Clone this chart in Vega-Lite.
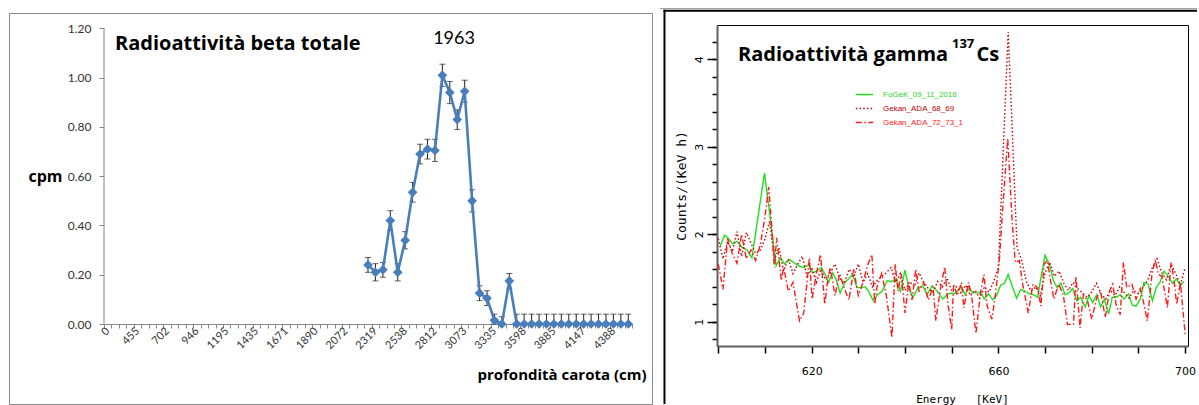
{
  "$schema": "https://vega.github.io/schema/vega-lite/v6.json",
  "padding": {"left": 9, "top": 7, "right": 0, "bottom": 0},
  "background": "white",
  "bounds": "flush",
  "spacing": 85,
  "config": {"view": {"stroke": null}, "axis": {"grid": false}},
  "datasets": {
    "beta": [
      {"idx":35,"cpm":0.24,"lo":0.21,"hi":0.27},
      {"idx":36,"cpm":0.21,"lo":0.175,"hi":0.245},
      {"idx":37,"cpm":0.22,"lo":0.19,"hi":0.25},
      {"idx":38,"cpm":0.42,"lo":0.38,"hi":0.46},
      {"idx":39,"cpm":0.21,"lo":0.175,"hi":0.245},
      {"idx":40,"cpm":0.34,"lo":0.305,"hi":0.375},
      {"idx":41,"cpm":0.535,"lo":0.495,"hi":0.575},
      {"idx":42,"cpm":0.69,"lo":0.65,"hi":0.73},
      {"idx":43,"cpm":0.71,"lo":0.67,"hi":0.75},
      {"idx":44,"cpm":0.705,"lo":0.66,"hi":0.75},
      {"idx":45,"cpm":1.01,"lo":0.965,"hi":1.055},
      {"idx":46,"cpm":0.94,"lo":0.895,"hi":0.985},
      {"idx":47,"cpm":0.83,"lo":0.79,"hi":0.87},
      {"idx":48,"cpm":0.945,"lo":0.9,"hi":0.99},
      {"idx":49,"cpm":0.5,"lo":0.455,"hi":0.545},
      {"idx":50,"cpm":0.125,"lo":0.095,"hi":0.155},
      {"idx":51,"cpm":0.105,"lo":0.075,"hi":0.135},
      {"idx":52,"cpm":0.015,"lo":0,"hi":0.04},
      {"idx":53,"cpm":0,"lo":0,"hi":0.03},
      {"idx":54,"cpm":0.175,"lo":0.145,"hi":0.205},
      {"idx":55,"cpm":0,"lo":0,"hi":0.04},
      {"idx":56,"cpm":0,"lo":0,"hi":0.04},
      {"idx":57,"cpm":0,"lo":0,"hi":0.04},
      {"idx":58,"cpm":0,"lo":0,"hi":0.04},
      {"idx":59,"cpm":0,"lo":0,"hi":0.04},
      {"idx":60,"cpm":0,"lo":0,"hi":0.04},
      {"idx":61,"cpm":0,"lo":0,"hi":0.04},
      {"idx":62,"cpm":0,"lo":0,"hi":0.04},
      {"idx":63,"cpm":0,"lo":0,"hi":0.04},
      {"idx":64,"cpm":0,"lo":0,"hi":0.04},
      {"idx":65,"cpm":0,"lo":0,"hi":0.04},
      {"idx":66,"cpm":0,"lo":0,"hi":0.04},
      {"idx":67,"cpm":0,"lo":0,"hi":0.04},
      {"idx":68,"cpm":0,"lo":0,"hi":0.04},
      {"idx":69,"cpm":0,"lo":0,"hi":0.04},
      {"idx":70,"cpm":0,"lo":0,"hi":0.04}
    ],
    "gamma": [
      {"series":"FoGeK_09_11_2016","energy":600.4,"counts":1.87},
      {"series":"FoGeK_09_11_2016","energy":601.4,"counts":1.99},
      {"series":"FoGeK_09_11_2016","energy":602.2,"counts":1.95},
      {"series":"FoGeK_09_11_2016","energy":603.1,"counts":1.89},
      {"series":"FoGeK_09_11_2016","energy":604.0,"counts":1.92},
      {"series":"FoGeK_09_11_2016","energy":605.1,"counts":1.85},
      {"series":"FoGeK_09_11_2016","energy":606.2,"counts":1.82},
      {"series":"FoGeK_09_11_2016","energy":607.2,"counts":1.73},
      {"series":"FoGeK_09_11_2016","energy":609.9,"counts":2.70},
      {"series":"FoGeK_09_11_2016","energy":612.4,"counts":1.64},
      {"series":"FoGeK_09_11_2016","energy":613.3,"counts":1.73},
      {"series":"FoGeK_09_11_2016","energy":614.2,"counts":1.66},
      {"series":"FoGeK_09_11_2016","energy":615.2,"counts":1.71},
      {"series":"FoGeK_09_11_2016","energy":616.1,"counts":1.68},
      {"series":"FoGeK_09_11_2016","energy":617.2,"counts":1.64},
      {"series":"FoGeK_09_11_2016","energy":618.3,"counts":1.62},
      {"series":"FoGeK_09_11_2016","energy":619.4,"counts":1.65},
      {"series":"FoGeK_09_11_2016","energy":620.2,"counts":1.56},
      {"series":"FoGeK_09_11_2016","energy":621.1,"counts":1.58},
      {"series":"FoGeK_09_11_2016","energy":622.1,"counts":1.62},
      {"series":"FoGeK_09_11_2016","energy":622.9,"counts":1.54},
      {"series":"FoGeK_09_11_2016","energy":623.6,"counts":1.45},
      {"series":"FoGeK_09_11_2016","energy":624.5,"counts":1.56},
      {"series":"FoGeK_09_11_2016","energy":625.2,"counts":1.49},
      {"series":"FoGeK_09_11_2016","energy":626.1,"counts":1.33},
      {"series":"FoGeK_09_11_2016","energy":627.1,"counts":1.45},
      {"series":"FoGeK_09_11_2016","energy":627.9,"counts":1.49},
      {"series":"FoGeK_09_11_2016","energy":628.8,"counts":1.54},
      {"series":"FoGeK_09_11_2016","energy":629.7,"counts":1.39},
      {"series":"FoGeK_09_11_2016","energy":630.4,"counts":1.39},
      {"series":"FoGeK_09_11_2016","energy":631.4,"counts":1.40},
      {"series":"FoGeK_09_11_2016","energy":632.2,"counts":1.35},
      {"series":"FoGeK_09_11_2016","energy":633.2,"counts":1.24},
      {"series":"FoGeK_09_11_2016","energy":634.1,"counts":1.31},
      {"series":"FoGeK_09_11_2016","energy":635.1,"counts":1.35},
      {"series":"FoGeK_09_11_2016","energy":636.2,"counts":1.47},
      {"series":"FoGeK_09_11_2016","energy":637.2,"counts":1.46},
      {"series":"FoGeK_09_11_2016","energy":638.1,"counts":1.49},
      {"series":"FoGeK_09_11_2016","energy":639.0,"counts":1.35},
      {"series":"FoGeK_09_11_2016","energy":640.0,"counts":1.59},
      {"series":"FoGeK_09_11_2016","energy":640.8,"counts":1.39},
      {"series":"FoGeK_09_11_2016","energy":641.7,"counts":1.28},
      {"series":"FoGeK_09_11_2016","energy":642.8,"counts":1.39},
      {"series":"FoGeK_09_11_2016","energy":643.8,"counts":1.41},
      {"series":"FoGeK_09_11_2016","energy":644.7,"counts":1.31},
      {"series":"FoGeK_09_11_2016","energy":645.8,"counts":1.41},
      {"series":"FoGeK_09_11_2016","energy":646.9,"counts":1.35},
      {"series":"FoGeK_09_11_2016","energy":648.1,"counts":1.26},
      {"series":"FoGeK_09_11_2016","energy":649.0,"counts":1.31},
      {"series":"FoGeK_09_11_2016","energy":649.9,"counts":1.33},
      {"series":"FoGeK_09_11_2016","energy":650.5,"counts":1.32},
      {"series":"FoGeK_09_11_2016","energy":651.2,"counts":1.35},
      {"series":"FoGeK_09_11_2016","energy":652.0,"counts":1.40},
      {"series":"FoGeK_09_11_2016","energy":652.9,"counts":1.31},
      {"series":"FoGeK_09_11_2016","energy":653.6,"counts":1.40},
      {"series":"FoGeK_09_11_2016","energy":654.5,"counts":1.33},
      {"series":"FoGeK_09_11_2016","energy":655.4,"counts":1.33},
      {"series":"FoGeK_09_11_2016","energy":656.2,"counts":1.34},
      {"series":"FoGeK_09_11_2016","energy":657.0,"counts":1.26},
      {"series":"FoGeK_09_11_2016","energy":657.9,"counts":1.32},
      {"series":"FoGeK_09_11_2016","energy":658.8,"counts":1.25},
      {"series":"FoGeK_09_11_2016","energy":659.6,"counts":1.30},
      {"series":"FoGeK_09_11_2016","energy":660.5,"counts":1.42},
      {"series":"FoGeK_09_11_2016","energy":661.3,"counts":1.44},
      {"series":"FoGeK_09_11_2016","energy":662.1,"counts":1.54},
      {"series":"FoGeK_09_11_2016","energy":663.0,"counts":1.40},
      {"series":"FoGeK_09_11_2016","energy":663.9,"counts":1.27},
      {"series":"FoGeK_09_11_2016","energy":664.8,"counts":1.37},
      {"series":"FoGeK_09_11_2016","energy":665.7,"counts":1.35},
      {"series":"FoGeK_09_11_2016","energy":666.6,"counts":1.32},
      {"series":"FoGeK_09_11_2016","energy":667.5,"counts":1.31},
      {"series":"FoGeK_09_11_2016","energy":668.4,"counts":1.28},
      {"series":"FoGeK_09_11_2016","energy":669.1,"counts":1.50},
      {"series":"FoGeK_09_11_2016","energy":670.0,"counts":1.76},
      {"series":"FoGeK_09_11_2016","energy":670.9,"counts":1.66},
      {"series":"FoGeK_09_11_2016","energy":671.8,"counts":1.47},
      {"series":"FoGeK_09_11_2016","energy":672.6,"counts":1.39},
      {"series":"FoGeK_09_11_2016","energy":673.4,"counts":1.44},
      {"series":"FoGeK_09_11_2016","energy":674.3,"counts":1.31},
      {"series":"FoGeK_09_11_2016","energy":675.1,"counts":1.33},
      {"series":"FoGeK_09_11_2016","energy":675.9,"counts":1.38},
      {"series":"FoGeK_09_11_2016","energy":676.8,"counts":1.24},
      {"series":"FoGeK_09_11_2016","energy":677.6,"counts":1.28},
      {"series":"FoGeK_09_11_2016","energy":678.6,"counts":1.17},
      {"series":"FoGeK_09_11_2016","energy":679.4,"counts":1.30},
      {"series":"FoGeK_09_11_2016","energy":680.2,"counts":1.22},
      {"series":"FoGeK_09_11_2016","energy":681.1,"counts":1.31},
      {"series":"FoGeK_09_11_2016","energy":681.9,"counts":1.17},
      {"series":"FoGeK_09_11_2016","energy":682.7,"counts":1.26},
      {"series":"FoGeK_09_11_2016","energy":683.6,"counts":1.09},
      {"series":"FoGeK_09_11_2016","energy":684.4,"counts":1.28},
      {"series":"FoGeK_09_11_2016","energy":685.2,"counts":1.28},
      {"series":"FoGeK_09_11_2016","energy":686.1,"counts":1.31},
      {"series":"FoGeK_09_11_2016","energy":686.9,"counts":1.26},
      {"series":"FoGeK_09_11_2016","energy":687.9,"counts":1.32},
      {"series":"FoGeK_09_11_2016","energy":688.7,"counts":1.19},
      {"series":"FoGeK_09_11_2016","energy":689.5,"counts":1.18},
      {"series":"FoGeK_09_11_2016","energy":690.4,"counts":1.26},
      {"series":"FoGeK_09_11_2016","energy":691.2,"counts":1.45},
      {"series":"FoGeK_09_11_2016","energy":692.1,"counts":1.43},
      {"series":"FoGeK_09_11_2016","energy":693.0,"counts":1.24},
      {"series":"FoGeK_09_11_2016","energy":693.8,"counts":1.39},
      {"series":"FoGeK_09_11_2016","energy":694.6,"counts":1.45},
      {"series":"FoGeK_09_11_2016","energy":695.5,"counts":1.58},
      {"series":"FoGeK_09_11_2016","energy":696.4,"counts":1.52},
      {"series":"FoGeK_09_11_2016","energy":697.3,"counts":1.44},
      {"series":"FoGeK_09_11_2016","energy":698.1,"counts":1.49},
      {"series":"FoGeK_09_11_2016","energy":699.0,"counts":1.42},
      {"series":"FoGeK_09_11_2016","energy":699.8,"counts":1.46},
      {"series":"Gekan_ADA_68_69","energy":600,"counts":1.95},
      {"series":"Gekan_ADA_68_69","energy":601,"counts":1.72},
      {"series":"Gekan_ADA_68_69","energy":602,"counts":1.92},
      {"series":"Gekan_ADA_68_69","energy":603,"counts":1.80},
      {"series":"Gekan_ADA_68_69","energy":604,"counts":2.03},
      {"series":"Gekan_ADA_68_69","energy":605,"counts":1.75},
      {"series":"Gekan_ADA_68_69","energy":606,"counts":2.02},
      {"series":"Gekan_ADA_68_69","energy":607,"counts":1.90},
      {"series":"Gekan_ADA_68_69","energy":608,"counts":1.78},
      {"series":"Gekan_ADA_68_69","energy":609,"counts":1.82},
      {"series":"Gekan_ADA_68_69","energy":610,"counts":1.95},
      {"series":"Gekan_ADA_68_69","energy":611,"counts":2.15},
      {"series":"Gekan_ADA_68_69","energy":612,"counts":1.70},
      {"series":"Gekan_ADA_68_69","energy":613,"counts":1.85},
      {"series":"Gekan_ADA_68_69","energy":614,"counts":1.58},
      {"series":"Gekan_ADA_68_69","energy":615,"counts":1.72},
      {"series":"Gekan_ADA_68_69","energy":616,"counts":1.55},
      {"series":"Gekan_ADA_68_69","energy":617,"counts":1.66},
      {"series":"Gekan_ADA_68_69","energy":618,"counts":1.75},
      {"series":"Gekan_ADA_68_69","energy":619,"counts":1.52},
      {"series":"Gekan_ADA_68_69","energy":620,"counts":1.62},
      {"series":"Gekan_ADA_68_69","energy":621,"counts":1.45},
      {"series":"Gekan_ADA_68_69","energy":622,"counts":1.60},
      {"series":"Gekan_ADA_68_69","energy":623,"counts":1.48},
      {"series":"Gekan_ADA_68_69","energy":624,"counts":1.56},
      {"series":"Gekan_ADA_68_69","energy":625,"counts":1.66},
      {"series":"Gekan_ADA_68_69","energy":626,"counts":1.50},
      {"series":"Gekan_ADA_68_69","energy":627,"counts":1.44},
      {"series":"Gekan_ADA_68_69","energy":628,"counts":1.60},
      {"series":"Gekan_ADA_68_69","energy":629,"counts":1.52},
      {"series":"Gekan_ADA_68_69","energy":630,"counts":1.66},
      {"series":"Gekan_ADA_68_69","energy":631,"counts":1.45},
      {"series":"Gekan_ADA_68_69","energy":632,"counts":1.55},
      {"series":"Gekan_ADA_68_69","energy":633,"counts":1.40},
      {"series":"Gekan_ADA_68_69","energy":634,"counts":1.47},
      {"series":"Gekan_ADA_68_69","energy":635,"counts":1.52},
      {"series":"Gekan_ADA_68_69","energy":636,"counts":1.56},
      {"series":"Gekan_ADA_68_69","energy":637,"counts":1.62},
      {"series":"Gekan_ADA_68_69","energy":638,"counts":1.45},
      {"series":"Gekan_ADA_68_69","energy":639,"counts":1.55},
      {"series":"Gekan_ADA_68_69","energy":640,"counts":1.36},
      {"series":"Gekan_ADA_68_69","energy":641,"counts":1.46},
      {"series":"Gekan_ADA_68_69","energy":642,"counts":1.40},
      {"series":"Gekan_ADA_68_69","energy":643,"counts":1.56},
      {"series":"Gekan_ADA_68_69","energy":644,"counts":1.45},
      {"series":"Gekan_ADA_68_69","energy":645,"counts":1.38},
      {"series":"Gekan_ADA_68_69","energy":646,"counts":1.34},
      {"series":"Gekan_ADA_68_69","energy":647,"counts":1.46},
      {"series":"Gekan_ADA_68_69","energy":648,"counts":1.40},
      {"series":"Gekan_ADA_68_69","energy":649,"counts":1.50},
      {"series":"Gekan_ADA_68_69","energy":650,"counts":1.35},
      {"series":"Gekan_ADA_68_69","energy":651,"counts":1.40},
      {"series":"Gekan_ADA_68_69","energy":652,"counts":1.33},
      {"series":"Gekan_ADA_68_69","energy":653,"counts":1.42},
      {"series":"Gekan_ADA_68_69","energy":654,"counts":1.30},
      {"series":"Gekan_ADA_68_69","energy":655,"counts":1.36},
      {"series":"Gekan_ADA_68_69","energy":656,"counts":1.27},
      {"series":"Gekan_ADA_68_69","energy":657,"counts":1.40},
      {"series":"Gekan_ADA_68_69","energy":658,"counts":1.34},
      {"series":"Gekan_ADA_68_69","energy":659,"counts":1.46},
      {"series":"Gekan_ADA_68_69","energy":660,"counts":1.62},
      {"series":"Gekan_ADA_68_69","energy":662.1,"counts":4.31},
      {"series":"Gekan_ADA_68_69","energy":664,"counts":1.85},
      {"series":"Gekan_ADA_68_69","energy":665,"counts":1.70},
      {"series":"Gekan_ADA_68_69","energy":666,"counts":1.46},
      {"series":"Gekan_ADA_68_69","energy":667,"counts":1.35},
      {"series":"Gekan_ADA_68_69","energy":668,"counts":1.40},
      {"series":"Gekan_ADA_68_69","energy":669,"counts":1.30},
      {"series":"Gekan_ADA_68_69","energy":670,"counts":1.56},
      {"series":"Gekan_ADA_68_69","energy":671,"counts":1.68},
      {"series":"Gekan_ADA_68_69","energy":672,"counts":1.52},
      {"series":"Gekan_ADA_68_69","energy":673,"counts":1.58},
      {"series":"Gekan_ADA_68_69","energy":674,"counts":1.44},
      {"series":"Gekan_ADA_68_69","energy":675,"counts":1.36},
      {"series":"Gekan_ADA_68_69","energy":676,"counts":1.45},
      {"series":"Gekan_ADA_68_69","energy":677,"counts":1.38},
      {"series":"Gekan_ADA_68_69","energy":678,"counts":1.33},
      {"series":"Gekan_ADA_68_69","energy":679,"counts":1.28},
      {"series":"Gekan_ADA_68_69","energy":680,"counts":1.34},
      {"series":"Gekan_ADA_68_69","energy":681,"counts":1.44},
      {"series":"Gekan_ADA_68_69","energy":682,"counts":1.32},
      {"series":"Gekan_ADA_68_69","energy":683,"counts":1.26},
      {"series":"Gekan_ADA_68_69","energy":684,"counts":1.36},
      {"series":"Gekan_ADA_68_69","energy":685,"counts":1.30},
      {"series":"Gekan_ADA_68_69","energy":686,"counts":1.40},
      {"series":"Gekan_ADA_68_69","energy":687,"counts":1.33},
      {"series":"Gekan_ADA_68_69","energy":688,"counts":1.27},
      {"series":"Gekan_ADA_68_69","energy":689,"counts":1.36},
      {"series":"Gekan_ADA_68_69","energy":690,"counts":1.32},
      {"series":"Gekan_ADA_68_69","energy":691,"counts":1.40},
      {"series":"Gekan_ADA_68_69","energy":692,"counts":1.48},
      {"series":"Gekan_ADA_68_69","energy":693,"counts":1.62},
      {"series":"Gekan_ADA_68_69","energy":694,"counts":1.72},
      {"series":"Gekan_ADA_68_69","energy":695,"counts":1.56},
      {"series":"Gekan_ADA_68_69","energy":696,"counts":1.48},
      {"series":"Gekan_ADA_68_69","energy":697,"counts":1.66},
      {"series":"Gekan_ADA_68_69","energy":698,"counts":1.55},
      {"series":"Gekan_ADA_68_69","energy":699,"counts":1.42},
      {"series":"Gekan_ADA_68_69","energy":700,"counts":1.62},
      {"series":"Gekan_ADA_72_73_1","energy":600,"counts":1.66},
      {"series":"Gekan_ADA_72_73_1","energy":601,"counts":1.37},
      {"series":"Gekan_ADA_72_73_1","energy":602,"counts":1.95},
      {"series":"Gekan_ADA_72_73_1","energy":603,"counts":1.78},
      {"series":"Gekan_ADA_72_73_1","energy":604,"counts":1.67},
      {"series":"Gekan_ADA_72_73_1","energy":605,"counts":2.00},
      {"series":"Gekan_ADA_72_73_1","energy":606,"counts":1.72},
      {"series":"Gekan_ADA_72_73_1","energy":607,"counts":1.82},
      {"series":"Gekan_ADA_72_73_1","energy":608,"counts":1.70},
      {"series":"Gekan_ADA_72_73_1","energy":609,"counts":1.88},
      {"series":"Gekan_ADA_72_73_1","energy":610,"counts":2.20},
      {"series":"Gekan_ADA_72_73_1","energy":610.8,"counts":2.54},
      {"series":"Gekan_ADA_72_73_1","energy":611.5,"counts":2.05},
      {"series":"Gekan_ADA_72_73_1","energy":612,"counts":1.62},
      {"series":"Gekan_ADA_72_73_1","energy":612.5,"counts":1.96},
      {"series":"Gekan_ADA_72_73_1","energy":613.5,"counts":1.47},
      {"series":"Gekan_ADA_72_73_1","energy":614,"counts":1.62},
      {"series":"Gekan_ADA_72_73_1","energy":615,"counts":1.35},
      {"series":"Gekan_ADA_72_73_1","energy":616,"counts":1.45},
      {"series":"Gekan_ADA_72_73_1","energy":617.4,"counts":1.01},
      {"series":"Gekan_ADA_72_73_1","energy":618.3,"counts":1.10},
      {"series":"Gekan_ADA_72_73_1","energy":619,"counts":1.45},
      {"series":"Gekan_ADA_72_73_1","energy":619.5,"counts":1.73},
      {"series":"Gekan_ADA_72_73_1","energy":620.1,"counts":1.26},
      {"series":"Gekan_ADA_72_73_1","energy":621,"counts":1.55},
      {"series":"Gekan_ADA_72_73_1","energy":621.9,"counts":1.77},
      {"series":"Gekan_ADA_72_73_1","energy":622.8,"counts":1.20},
      {"series":"Gekan_ADA_72_73_1","energy":623.5,"counts":1.50},
      {"series":"Gekan_ADA_72_73_1","energy":624,"counts":1.62},
      {"series":"Gekan_ADA_72_73_1","energy":625,"counts":1.30},
      {"series":"Gekan_ADA_72_73_1","energy":626,"counts":1.55},
      {"series":"Gekan_ADA_72_73_1","energy":627,"counts":1.38},
      {"series":"Gekan_ADA_72_73_1","energy":628,"counts":1.25},
      {"series":"Gekan_ADA_72_73_1","energy":629,"counts":1.60},
      {"series":"Gekan_ADA_72_73_1","energy":630,"counts":1.30},
      {"series":"Gekan_ADA_72_73_1","energy":631,"counts":1.45},
      {"series":"Gekan_ADA_72_73_1","energy":632,"counts":1.65},
      {"series":"Gekan_ADA_72_73_1","energy":632.9,"counts":1.77},
      {"series":"Gekan_ADA_72_73_1","energy":633.5,"counts":1.20},
      {"series":"Gekan_ADA_72_73_1","energy":634,"counts":1.40},
      {"series":"Gekan_ADA_72_73_1","energy":635,"counts":1.55},
      {"series":"Gekan_ADA_72_73_1","energy":636,"counts":1.30},
      {"series":"Gekan_ADA_72_73_1","energy":637.2,"counts":0.82},
      {"series":"Gekan_ADA_72_73_1","energy":637.9,"counts":1.66},
      {"series":"Gekan_ADA_72_73_1","energy":638.5,"counts":1.35},
      {"series":"Gekan_ADA_72_73_1","energy":639.2,"counts":1.55},
      {"series":"Gekan_ADA_72_73_1","energy":640,"counts":1.10},
      {"series":"Gekan_ADA_72_73_1","energy":640.8,"counts":1.45},
      {"series":"Gekan_ADA_72_73_1","energy":641.5,"counts":1.25},
      {"series":"Gekan_ADA_72_73_1","energy":642.3,"counts":1.60},
      {"series":"Gekan_ADA_72_73_1","energy":643,"counts":1.35},
      {"series":"Gekan_ADA_72_73_1","energy":644,"counts":1.45},
      {"series":"Gekan_ADA_72_73_1","energy":645,"counts":1.25},
      {"series":"Gekan_ADA_72_73_1","energy":646,"counts":1.40},
      {"series":"Gekan_ADA_72_73_1","energy":646.6,"counts":1.01},
      {"series":"Gekan_ADA_72_73_1","energy":647.5,"counts":1.35},
      {"series":"Gekan_ADA_72_73_1","energy":648.5,"counts":1.63},
      {"series":"Gekan_ADA_72_73_1","energy":649.2,"counts":1.20},
      {"series":"Gekan_ADA_72_73_1","energy":650,"counts":0.91},
      {"series":"Gekan_ADA_72_73_1","energy":650.4,"counts":1.43},
      {"series":"Gekan_ADA_72_73_1","energy":651.2,"counts":1.30},
      {"series":"Gekan_ADA_72_73_1","energy":652.1,"counts":1.45},
      {"series":"Gekan_ADA_72_73_1","energy":652.6,"counts":1.16},
      {"series":"Gekan_ADA_72_73_1","energy":653.6,"counts":1.45},
      {"series":"Gekan_ADA_72_73_1","energy":654.3,"counts":1.28},
      {"series":"Gekan_ADA_72_73_1","energy":655.2,"counts":0.865},
      {"series":"Gekan_ADA_72_73_1","energy":656.1,"counts":1.31},
      {"series":"Gekan_ADA_72_73_1","energy":656.9,"counts":1.54},
      {"series":"Gekan_ADA_72_73_1","energy":657.6,"counts":1.18},
      {"series":"Gekan_ADA_72_73_1","energy":658.6,"counts":1.03},
      {"series":"Gekan_ADA_72_73_1","energy":659.3,"counts":1.28},
      {"series":"Gekan_ADA_72_73_1","energy":660.2,"counts":1.70},
      {"series":"Gekan_ADA_72_73_1","energy":660.9,"counts":2.27},
      {"series":"Gekan_ADA_72_73_1","energy":662.0,"counts":3.10},
      {"series":"Gekan_ADA_72_73_1","energy":662.9,"counts":2.19},
      {"series":"Gekan_ADA_72_73_1","energy":663.6,"counts":1.68},
      {"series":"Gekan_ADA_72_73_1","energy":664.5,"counts":1.70},
      {"series":"Gekan_ADA_72_73_1","energy":665.2,"counts":1.43},
      {"series":"Gekan_ADA_72_73_1","energy":666.4,"counts":1.10},
      {"series":"Gekan_ADA_72_73_1","energy":667.4,"counts":1.43},
      {"series":"Gekan_ADA_72_73_1","energy":668.4,"counts":1.39},
      {"series":"Gekan_ADA_72_73_1","energy":669.1,"counts":1.18},
      {"series":"Gekan_ADA_72_73_1","energy":669.8,"counts":1.66},
      {"series":"Gekan_ADA_72_73_1","energy":670.5,"counts":1.70},
      {"series":"Gekan_ADA_72_73_1","energy":671.3,"counts":1.43},
      {"series":"Gekan_ADA_72_73_1","energy":671.9,"counts":1.26},
      {"series":"Gekan_ADA_72_73_1","energy":672.9,"counts":1.43},
      {"series":"Gekan_ADA_72_73_1","energy":673.9,"counts":1.31},
      {"series":"Gekan_ADA_72_73_1","energy":674.8,"counts":0.97},
      {"series":"Gekan_ADA_72_73_1","energy":676.1,"counts":0.97},
      {"series":"Gekan_ADA_72_73_1","energy":676.6,"counts":1.52},
      {"series":"Gekan_ADA_72_73_1","energy":677.5,"counts":0.93},
      {"series":"Gekan_ADA_72_73_1","energy":678.2,"counts":1.31},
      {"series":"Gekan_ADA_72_73_1","energy":679.1,"counts":1.24},
      {"series":"Gekan_ADA_72_73_1","energy":680.0,"counts":1.03},
      {"series":"Gekan_ADA_72_73_1","energy":681.1,"counts":1.28},
      {"series":"Gekan_ADA_72_73_1","energy":681.9,"counts":1.35},
      {"series":"Gekan_ADA_72_73_1","energy":682.9,"counts":1.05},
      {"series":"Gekan_ADA_72_73_1","energy":683.8,"counts":1.35},
      {"series":"Gekan_ADA_72_73_1","energy":684.5,"counts":1.43},
      {"series":"Gekan_ADA_72_73_1","energy":685.2,"counts":1.20},
      {"series":"Gekan_ADA_72_73_1","energy":686.1,"counts":1.08},
      {"series":"Gekan_ADA_72_73_1","energy":686.8,"counts":1.68},
      {"series":"Gekan_ADA_72_73_1","energy":687.5,"counts":1.39},
      {"series":"Gekan_ADA_72_73_1","energy":688.6,"counts":1.43},
      {"series":"Gekan_ADA_72_73_1","energy":689.5,"counts":1.26},
      {"series":"Gekan_ADA_72_73_1","energy":690.4,"counts":1.38},
      {"series":"Gekan_ADA_72_73_1","energy":691.2,"counts":1.20},
      {"series":"Gekan_ADA_72_73_1","energy":691.9,"counts":1.01},
      {"series":"Gekan_ADA_72_73_1","energy":692.9,"counts":1.54},
      {"series":"Gekan_ADA_72_73_1","energy":693.6,"counts":1.71},
      {"series":"Gekan_ADA_72_73_1","energy":694.3,"counts":1.54},
      {"series":"Gekan_ADA_72_73_1","energy":695.0,"counts":1.52},
      {"series":"Gekan_ADA_72_73_1","energy":695.6,"counts":1.35},
      {"series":"Gekan_ADA_72_73_1","energy":696.2,"counts":1.16},
      {"series":"Gekan_ADA_72_73_1","energy":697.0,"counts":1.68},
      {"series":"Gekan_ADA_72_73_1","energy":697.6,"counts":1.49},
      {"series":"Gekan_ADA_72_73_1","energy":698.2,"counts":1.20},
      {"series":"Gekan_ADA_72_73_1","energy":699.0,"counts":1.45},
      {"series":"Gekan_ADA_72_73_1","energy":700.0,"counts":0.86}
    ]
  },
  "hconcat": [
    {
      "width": 528,
      "height": 299,
      "resolve": {"axis": {"x": "independent"}},
      "layer": [
        {
          "data": {"values": [{}]},
          "mark": {"type": "rect", "filled": false, "stroke": "#8c8c8c", "strokeWidth": 1},
          "encoding": {
            "x": {"datum": -13.207, "type": "quantitative", "axis": null},
            "x2": {"datum": 73.257},
            "y": {"datum": 1.2609, "type": "quantitative"},
            "y2": {"datum": -0.3269}
          }
        },
        {
          "data": {"values": [{}]},
          "mark": {"type": "rule", "color": "#868686", "strokeWidth": 1},
          "encoding": {
            "x": {
              "datum": -0.5, "type": "quantitative",
              "axis": {
                "orient": "bottom",
                "values": [-0.5,0.5,1.5,2.5,3.5,4.5,5.5,6.5,7.5,8.5,9.5,10.5,11.5,12.5,13.5,14.5,15.5,16.5,17.5,18.5,19.5,20.5,21.5,22.5,23.5,24.5,25.5,26.5,27.5,28.5,29.5,30.5,31.5,32.5,33.5,34.5,35.5,36.5,37.5,38.5,39.5,40.5,41.5,42.5,43.5,44.5,45.5,46.5,47.5,48.5,49.5,50.5,51.5,52.5,53.5,54.5,55.5,56.5,57.5,58.5,59.5,60.5,61.5,62.5,63.5,64.5,65.5,66.5,67.5,68.5,69.5,70.5],
                "labels": false,
                "tickSize": 4,
                "tickColor": "#868686",
                "domainColor": "#868686",
                "title": null
              }
            },
            "y": {"datum": 0, "type": "quantitative"},
            "y2": {"datum": 1.2}
          }
        },
        {
          "data": {"name": "beta"},
          "mark": {"type": "rule", "color": "#222222", "strokeWidth": 1},
          "encoding": {
            "x": {"field": "idx", "type": "quantitative", "axis": null},
            "y": {"field": "lo", "type": "quantitative"},
            "y2": {"field": "hi"}
          }
        },
        {
          "data": {"name": "beta"},
          "mark": {"type": "tick", "orient": "horizontal", "size": 6, "thickness": 1, "color": "#222222"},
          "encoding": {
            "x": {"field": "idx", "type": "quantitative", "axis": null},
            "y": {"field": "hi", "type": "quantitative"}
          }
        },
        {
          "data": {"name": "beta"},
          "mark": {"type": "tick", "orient": "horizontal", "size": 6, "thickness": 1, "color": "#222222"},
          "encoding": {
            "x": {"field": "idx", "type": "quantitative", "axis": null},
            "y": {"field": "lo", "type": "quantitative"}
          }
        },
        {
          "data": {"name": "beta"},
          "mark": {"type": "line", "color": "#4a7ebb", "strokeWidth": 2.6},
          "encoding": {
            "x": {
              "field": "idx", "type": "quantitative",
              "scale": {"domain": [-0.5, 70.5], "nice": false, "zero": false},
              "axis": {
                "orient": "bottom",
                "values": [0,4,8,12,16,20,24,28,32,36,40,44,48,52,56,60,64,68],
                "labelExpr": "['0','455','702','946','1195','1435','1671','1890','2072','2319','2538','2812','3073','3335','3598','3885','4147','4388'][datum.value / 4]",
                "labelAngle": -45,
                "labelAlign": "right",
                "labelBaseline": "middle",
                "labelPadding": 5,
                "labelFont": "Lato",
                "labelFontSize": 11,
                "labelColor": "#333333",
                "labelOverlap": false,
                "labelSeparation": -100,
                "labelFlush": false,
                "labelBound": false,
                "ticks": false,
                "domain": false,
                "title": "profondità carota (cm)",
                "titleFont": "Open Sans",
                "titleFontSize": 15,
                "titleFontWeight": "bold",
                "titleColor": "#000000",
                "titleX": 542,
                "titleY": 55,
                "titleAlign": "right",
                "titleBaseline": "alphabetic"
              }
            },
            "y": {
              "field": "cpm", "type": "quantitative",
              "scale": {"domain": [0, 1.2142], "nice": false, "zero": false},
              "axis": {
                "values": [0, 0.2, 0.4, 0.6, 0.8, 1, 1.2],
                "format": ".2f",
                "labelFont": "Lato",
                "labelFontSize": 12,
                "labelColor": "#333333",
                "labelPadding": 8,
                "tickSize": 5,
                "tickColor": "#868686",
                "domain": false,
                "title": "cpm",
                "titleAngle": 0,
                "titleFont": "Open Sans",
                "titleFontSize": 16,
                "titleFontWeight": "bold",
                "titleColor": "#000000",
                "titleX": -76,
                "titleY": 156,
                "titleAlign": "left",
                "titleBaseline": "alphabetic"
              }
            }
          }
        },
        {
          "data": {"name": "beta"},
          "mark": {"type": "point", "shape": "diamond", "filled": true, "size": 95, "color": "#4a7ebb", "opacity": 1},
          "encoding": {
            "x": {"field": "idx", "type": "quantitative", "axis": null},
            "y": {"field": "cpm", "type": "quantitative"}
          }
        },
        {
          "data": {"values": [{}]},
          "mark": {"type": "text", "text": "Radioattività beta totale", "font": "Open Sans", "fontSize": 20, "fontWeight": "bold", "align": "left", "baseline": "alphabetic", "color": "#000000"},
          "encoding": {
            "x": {"datum": 0.979, "type": "quantitative", "axis": null},
            "y": {"datum": 1.1127, "type": "quantitative"}
          }
        },
        {
          "data": {"values": [{}]},
          "mark": {"type": "text", "text": "1963", "font": "Lato", "fontSize": 18, "align": "center", "baseline": "alphabetic", "color": "#000000"},
          "encoding": {
            "x": {"datum": 46.565, "type": "quantitative", "axis": null},
            "y": {"datum": 1.1358, "type": "quantitative"}
          }
        }
      ]
    },
    {
      "width": 471,
      "height": 321,
      "view": {"stroke": "#000000", "strokeWidth": 1},
      "resolve": {"axis": {"y": "independent"}},
      "layer": [
        {
          "data": {"values": [{}]},
          "mark": {"type": "rule", "color": "#a0a0a0", "strokeWidth": 1},
          "encoding": {
            "x": {"datum": 587.51, "type": "quantitative"},
            "x2": {"datum": 702.55},
            "y": {"datum": 4.5806, "type": "quantitative", "axis": null}
          }
        },
        {
          "data": {"values": [{}]},
          "mark": {"type": "rule", "color": "#000000", "strokeWidth": 2},
          "encoding": {
            "x": {"datum": 588.25, "type": "quantitative"},
            "x2": {"datum": 702.55},
            "y": {"datum": 4.5554, "type": "quantitative", "axis": null}
          }
        },
        {
          "data": {"values": [{}]},
          "mark": {"type": "rule", "color": "#000000", "strokeWidth": 2},
          "encoding": {
            "x": {"datum": 588.47, "type": "quantitative"},
            "y": {
              "datum": 4.5668, "type": "quantitative",
              "axis": {
                "orient": "left",
                "values": [0.8,1,1.2,1.4,1.6,1.8,2,2.2,2.4,2.6,2.8,3,3.2,3.4,3.6,3.8,4,4.2,4.4],
                "tickSize": 5,
                "tickWidth": 1.5,
                "tickColor": "#000000",
                "labels": false,
                "domain": false,
                "title": null
              }
            },
            "y2": {"datum": 0.0605}
          }
        },
        {
          "data": {"name": "gamma"},
          "mark": {"type": "line", "strokeWidth": 1.4},
          "encoding": {
            "x": {
              "field": "energy", "type": "quantitative",
              "scale": {"domain": [599.72, 700.62], "nice": false, "zero": false},
              "axis": {
                "values": [600,605,610,615,620,625,630,635,640,645,650,655,660,665,670,675,680,685,690,695,700],
                "format": "d",
                "labelExpr": "datum.value == 620 || datum.value == 660 || datum.value == 700 ? datum.label : ''",
                "labelFont": "DejaVu Sans",
                "labelFontSize": 11,
                "labelColor": "#000000",
                "labelPadding": 12,
                "labelOverlap": false,
                "labelFlush": false,
                "tickSize": 7,
                "tickWidth": 1.5,
                "tickColor": "#000000",
                "domainColor": "#606060",
                "domainWidth": 2,
                "title": "Energy\u00a0\u00a0\u00a0[KeV]",
                "titleFont": "DejaVu Sans Mono",
                "titleFontSize": 11,
                "titleFontWeight": "normal",
                "titleColor": "#000000",
                "titleX": 245,
                "titleY": 56,
                "titleAlign": "center",
                "titleBaseline": "alphabetic"
              }
            },
            "y": {
              "field": "counts", "type": "quantitative",
              "scale": {"domain": [0.7234, 4.392], "nice": false, "zero": false},
              "axis": {
                "orient": "left",
                "values": [1, 2, 3, 4],
                "tickSize": 10,
                "tickWidth": 1.5,
                "tickColor": "#000000",
                "domainColor": "#606060",
                "domainWidth": 2,
                "labelAngle": 270,
                "labelAlign": "center",
                "labelBaseline": "bottom",
                "labelPadding": 3,
                "labelFont": "DejaVu Sans",
                "labelFontSize": 11,
                "labelColor": "#000000",
                "title": "Counts/(KeV h)",
                "titleFont": "DejaVu Sans Mono",
                "titleFontSize": 13,
                "titleFontWeight": "normal",
                "titleColor": "#000000",
                "titleAngle": 270,
                "titleX": -36,
                "titleY": 160.5,
                "titleAlign": "center",
                "titleBaseline": "middle"
              }
            },
            "color": {
              "field": "series", "type": "nominal",
              "scale": {"domain": ["FoGeK_09_11_2016", "Gekan_ADA_68_69", "Gekan_ADA_72_73_1"], "range": ["#1fe01f", "#c80000", "#ff1a1a"]},
              "legend": {
                "orient": "none", "legendX": 751, "legendY": 60, "title": null,
                "symbolType": "stroke", "symbolSize": 300, "symbolStrokeWidth": 1.5,
                "labelFont": "Liberation Sans", "labelFontSize": 8, "labelOffset": 9,
                "rowPadding": -4, "padding": 0,
                "encode": {"labels": {"update": {"fill": {"signal": "datum.value == 'FoGeK_09_11_2016' ? '#1fd81f' : datum.value == 'Gekan_ADA_68_69' ? '#c00000' : '#ff1a1a'"}}}}
              }
            },
            "strokeDash": {
              "field": "series", "type": "nominal",
              "scale": {"domain": ["FoGeK_09_11_2016", "Gekan_ADA_68_69", "Gekan_ADA_72_73_1"], "range": [[1, 0], [1.5, 2.2], [6, 2.5, 1.5, 2.5]]},
              "legend": {
                "orient": "none", "legendX": 751, "legendY": 60, "title": null,
                "symbolType": "stroke", "symbolSize": 300, "symbolStrokeWidth": 1.5,
                "labelFont": "Liberation Sans", "labelFontSize": 8, "labelOffset": 9,
                "rowPadding": -4, "padding": 0,
                "encode": {"labels": {"update": {"fill": {"signal": "datum.value == 'FoGeK_09_11_2016' ? '#1fd81f' : datum.value == 'Gekan_ADA_68_69' ? '#c00000' : '#ff1a1a'"}}}}
              }
            }
          }
        },
        {
          "data": {"values": [{}]},
          "mark": {"type": "text", "text": "Radioattività gamma", "font": "Open Sans", "fontSize": 20, "fontWeight": "bold", "align": "left", "baseline": "alphabetic", "color": "#000000"},
          "encoding": {
            "x": {"datum": 604.22, "type": "quantitative"},
            "y": {"datum": 3.9805, "type": "quantitative", "axis": null}
          }
        },
        {
          "data": {"values": [{}]},
          "mark": {"type": "text", "text": "137", "font": "Open Sans", "fontSize": 13, "fontWeight": "bold", "align": "left", "baseline": "alphabetic", "color": "#000000"},
          "encoding": {
            "x": {"datum": 650.06, "type": "quantitative"},
            "y": {"datum": 4.1291, "type": "quantitative", "axis": null}
          }
        },
        {
          "data": {"values": [{}]},
          "mark": {"type": "text", "text": "Cs", "font": "Open Sans", "fontSize": 20, "fontWeight": "bold", "align": "left", "baseline": "alphabetic", "color": "#000000"},
          "encoding": {
            "x": {"datum": 655.3, "type": "quantitative"},
            "y": {"datum": 3.9805, "type": "quantitative", "axis": null}
          }
        }
      ]
    }
  ]
}
